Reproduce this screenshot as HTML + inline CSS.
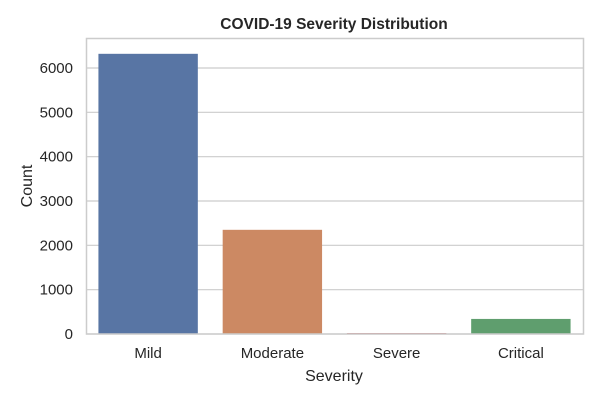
<!DOCTYPE html>
<html><head><meta charset="utf-8"><style>
body{margin:0;background:#fff;}
svg text{font-family:"Liberation Sans",Arial,sans-serif;fill:#262626;}
</style></head><body>
<svg width="600" height="400" viewBox="0 0 600 400">
<text x="334" y="29" font-size="15.5" font-weight="bold" text-anchor="middle">COVID-19 Severity Distribution</text>
<g id="grid"></g>
<g id="bars"></g>
<g id="xt"></g>
<rect x="86.5" y="38.5" width="497" height="295.5" fill="none" stroke="#cccccc" stroke-width="1.5"/>
<text x="334" y="381" font-size="16" text-anchor="middle">Severity</text>
<text transform="translate(32,186) rotate(-90)" font-size="16" text-anchor="middle">Count</text>
</svg>
<script>
const categories=["Mild","Moderate","Severe","Critical"];
const counts=[6320,2350,20,340];
const colors=["#5875a4","#cc8963","#c44e52","#5f9e6e"];
const yTicks=[0,1000,2000,3000,4000,5000,6000];
const L=86,R=583,T=38,B=334;
const y=v=>B-v*(334-68)/6000;
const slot=(R-L)/categories.length;
const ns="http://www.w3.org/2000/svg";
const grid=document.getElementById('grid'),bars=document.getElementById('bars'),xt=document.getElementById('xt');
yTicks.forEach(t=>{
 const l=document.createElementNS(ns,'line');
 l.setAttribute('x1',L);l.setAttribute('x2',R);l.setAttribute('y1',y(t));l.setAttribute('y2',y(t));
 l.setAttribute('stroke','#cccccc');l.setAttribute('stroke-width','1.2');
 
 
 grid.appendChild(l);
 const tx=document.createElementNS(ns,'text');
 tx.setAttribute('x',L-13);tx.setAttribute('y',y(t)+5);tx.setAttribute('font-size','15');tx.setAttribute('text-anchor','end');
 tx.textContent=t;
 
 
 grid.appendChild(tx);
});
categories.forEach((c,i)=>{
 const cx=L+slot*(i+0.5),w=slot*0.8;
 const r=document.createElementNS(ns,'rect');
 r.setAttribute('x',cx-w/2);r.setAttribute('width',w);
 r.setAttribute('y',y(counts[i]));r.setAttribute('height',B-y(counts[i]));
 r.setAttribute('fill',colors[i]);
 
 
 bars.appendChild(r);
 const tx=document.createElementNS(ns,'text');
 tx.setAttribute('x',cx);tx.setAttribute('y',B+24);tx.setAttribute('font-size','15');tx.setAttribute('text-anchor','middle');
 tx.textContent=c;
 
 
 xt.appendChild(tx);
});
</script>
</body></html>
